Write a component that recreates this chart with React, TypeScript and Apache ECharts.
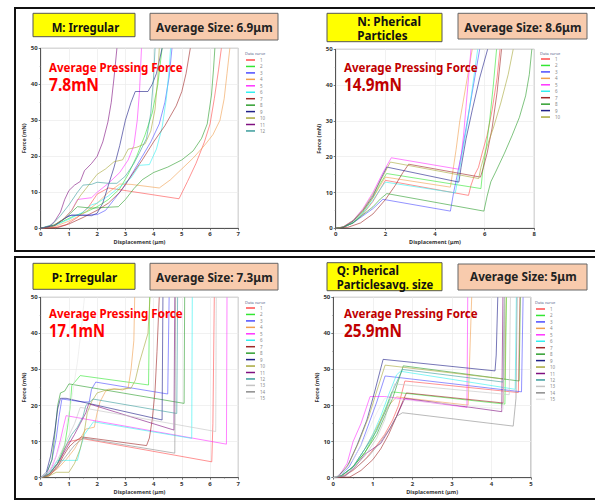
import React, { useEffect, useRef } from 'react';
import * as echarts from 'echarts';

type Pt = [number, number];

const curveColors = [
  '#ff4d4d', '#33e633', '#4d4dff', '#f0a050', '#ff33ff', '#33f0f0', '#a02828', '#2e9e2e',
  '#202088', '#a8a83c', '#801080', '#3c9c9c', '#c4c4c4', '#8c8c8c', '#e6e6e6',
];

// Panel M: Irregular, 12 curves
const mCurves: Pt[][] = [
  [[0,0],[0.5,0.2],[0.9,1],[1.3,3],[1.7,6],[2.0,9.5],[2.4,11.2],[4.9,8.2],[5.2,13],[5.5,18],[5.8,24],[6.0,29],[6.15,36],[6.3,44],[6.4,50]],
  [[0,0],[0.4,0.5],[0.8,2],[1.2,3.5],[1.6,4.5],[2.0,6],[2.4,8],[2.8,11],[3.1,15],[3.4,20],[3.7,26],[3.95,32],[4.15,40],[4.3,50]],
  [[0,0],[0.5,0.8],[1.0,3.5],[1.5,3.7],[2.0,3.8],[2.3,5],[2.6,8],[3.0,12],[3.3,16],[3.6,20],[3.9,24],[4.2,29],[4.4,35],[4.55,42],[4.65,50]],
  [[0,0],[0.5,0.5],[1.0,2],[1.5,4],[2.0,7],[2.4,10],[2.8,12.3],[3.2,12.2],[4.2,11.2],[4.6,13.5],[5.0,16.5],[5.4,19.5],[5.8,23],[6.1,26],[6.35,30],[6.5,36],[6.6,43],[6.7,50]],
  [[0,0],[0.4,0.5],[0.8,2.5],[1.1,5],[1.3,8],[1.8,8.5],[2.0,10],[2.4,12.5],[2.8,15.5],[3.1,19],[3.3,23],[3.42,30],[3.5,38],[3.57,50]],
  [[0,0],[0.5,0.8],[1.0,2.5],[1.5,4.5],[1.8,6.5],[2.0,7],[2.4,9],[2.8,11.5],[3.2,14],[3.5,17.5],[3.85,17.7],[4.1,22],[4.3,28],[4.45,36],[4.55,44],[4.6,50]],
  [[0,0],[0.6,0.2],[1.0,1.2],[1.5,3],[2.0,5],[2.4,7],[2.8,10],[3.2,14.5],[3.6,19],[4.0,24],[4.4,28.5],[4.8,34],[5.0,38],[5.15,43],[5.3,50]],
  [[0,0],[0.5,1],[0.9,3],[1.3,6],[1.8,5.6],[2.3,5.8],[2.75,6],[3.0,8],[3.3,11],[3.6,13.5],[4.0,15.5],[4.5,17],[5.0,19],[5.4,21.5],[5.7,25],[5.9,29],[6.05,37],[6.12,44],[6.17,50]],
  [[0,0],[0.5,0.8],[0.9,3],[1.1,3.7],[1.8,3.5],[2.0,4.2],[2.2,7],[2.4,12],[2.6,17],[2.8,23],[3.0,30],[3.2,35],[3.35,38],[3.8,38],[3.95,40],[4.1,43],[4.3,50]],
  [[0,0],[0.4,0.5],[0.8,2.5],[1.1,5],[1.4,9],[1.7,12],[2.0,15],[2.3,16.5],[2.6,18.5],[2.9,19],[3.1,22],[3.4,22.5],[3.7,23.5],[3.9,27],[4.05,33],[4.15,42],[4.2,50]],
  [[0,0],[0.3,0.5],[0.5,2],[0.7,4.5],[0.85,8],[1.0,10.5],[1.2,12],[1.4,13],[1.55,16],[1.8,18],[2.0,20],[2.2,24],[2.38,29.5],[2.5,35],[2.6,42],[2.7,50]],
  [[0,0],[0.4,1],[0.7,3.5],[1.0,6.5],[1.3,10],[1.5,12],[1.8,12.2],[2.0,12.8],[2.4,12.5],[2.7,12.5],[3.0,14.5],[3.3,18],[3.5,21],[3.75,25],[3.9,32],[4.0,42],[4.05,50]],
];

// Panel N: spherical particles, 10 curves
const nCurves: Pt[][] = [
  [[0,0],[0.3,0.3],[0.7,1.5],[1.1,4],[1.5,7.5],[1.8,11],[2.0,13.4],[5.35,9.2],[5.45,12],[5.6,15],[5.75,17],[5.9,21],[6.1,26],[6.3,33],[6.5,42],[6.62,50]],
  [[0,0],[0.3,0.3],[0.7,1.5],[1.1,4.5],[1.5,8.5],[1.8,12.5],[2.05,15.3],[5.85,11.1],[5.92,16],[6.05,22],[6.2,30],[6.35,40],[6.48,50]],
  [[0,0],[0.3,0.3],[0.7,1.5],[1.1,3.5],[1.5,5.5],[1.9,8.1],[4.62,4.8],[4.75,10],[4.9,15],[5.1,22],[5.3,30],[5.55,40],[5.8,50]],
  [[0,0],[0.3,0.3],[0.7,1.8],[1.1,4.8],[1.5,8.5],[1.8,12],[2.0,14.3],[4.62,11.5],[4.72,16],[4.85,22],[5.0,30],[5.25,40],[5.5,50]],
  [[0,0],[0.3,0.4],[0.7,2.2],[1.1,5.5],[1.5,10],[1.9,15.5],[2.24,19.7],[4.96,16.5],[5.05,20],[5.15,26],[5.25,34],[5.35,42],[5.45,50]],
  [[0,0],[0.3,0.3],[0.7,1.6],[1.1,4.2],[1.5,7.8],[1.8,11],[2.0,12.9],[4.82,9.9],[4.95,15],[5.1,21],[5.3,29],[5.5,39],[5.72,50]],
  [[0,0],[0.5,0.3],[1.0,1.5],[1.5,4],[2.0,8],[2.4,12],[2.7,15.5],[2.94,17.9],[5.83,14.3],[5.95,17],[6.1,21],[6.3,28],[6.5,38],[6.68,50]],
  [[0,0],[0.3,0.3],[0.7,1.5],[1.1,3.8],[1.5,6],[1.8,8.2],[2.06,9.7],[5.97,4.8],[6.1,9],[6.25,13],[6.44,15.7],[6.8,21],[7.11,26],[7.4,31],[7.65,37],[7.8,43],[7.9,50]],
  [[0,0],[0.3,0.3],[0.7,2],[1.1,5],[1.5,9],[1.8,13.5],[2.06,17.1],[4.96,12.9],[5.05,17],[5.25,25],[5.5,33],[5.8,42],[6.12,50]],
  [[0,0],[0.3,0.4],[0.7,2.2],[1.1,5.2],[1.5,9.5],[1.9,14.5],[2.2,18.5],[5.76,13.9],[5.85,17],[6.05,22],[6.35,28],[6.65,35],[6.95,43],[7.15,50]],
];

// Panel P: Irregular, 15 curves
const pCurves: Pt[][] = [
  [[0,0],[0.3,0.8],[0.5,2.5],[0.7,5],[0.85,8],[1.0,10],[1.3,10.5],[1.5,10.8],[6.06,4.4],[6.1,15],[6.15,50]],
  [[0,0],[0.3,1],[0.6,4],[0.85,9],[0.95,14],[1.05,20],[1.1,25.5],[1.4,28.3],[3.82,25.7],[3.86,50]],
  [[0,0],[0.2,1],[0.4,5],[0.55,11],[0.65,17],[0.75,21.8],[1.5,21],[1.72,21],[1.8,24.5],[1.95,26.5],[4.5,23.2],[4.55,50]],
  [[0,0],[0.3,0.8],[0.6,2.5],[0.9,5],[1.2,8],[1.45,11.5],[1.6,13.5],[1.9,14],[2.0,18],[2.1,21],[2.3,24],[2.6,24.7],[2.9,24.3],[3.1,25],[3.2,30],[3.3,38],[3.33,50]],
  [[0,0],[0.2,0.8],[0.4,3],[0.55,6],[0.7,10.5],[0.8,14],[0.9,17.2],[6.58,9.3],[6.6,50]],
  [[0,0],[0.25,1],[0.45,3],[0.6,4.8],[1.3,4.8],[1.4,8],[1.55,12],[1.87,15.5],[5.35,10.9],[5.37,50]],
  [[0,0],[0.3,0.5],[0.6,3],[0.8,6],[1.0,8.5],[1.2,10],[1.45,11.3],[3.75,8.9],[3.85,11],[3.95,16],[4.05,24],[4.12,35],[4.2,50]],
  [[0,0],[0.2,1],[0.4,5],[0.5,12],[0.6,20],[0.7,23.5],[0.85,24],[1.0,26],[5.08,20.6],[5.1,50]],
  [[0,0],[0.2,1.5],[0.35,6],[0.5,13],[0.6,19],[0.7,22],[0.9,22],[4.3,16],[4.33,50]],
  [[0,0],[0.3,0.5],[0.55,1.5],[1.0,1.5],[1.2,4],[1.4,8],[1.55,13],[1.65,18],[1.8,21],[2.0,23.5],[2.4,24.5],[2.8,24.5],[3.2,24.8],[3.35,27],[3.5,32],[3.65,36],[3.8,40],[3.87,50]],
  [[0,0],[0.3,1],[0.6,4],[0.9,8],[1.2,12],[1.4,15],[1.6,18],[1.7,20.5],[4.72,13.2],[4.75,50]],
  [[0,0],[0.3,1],[0.6,4],[0.9,9],[1.1,12],[1.3,14],[1.5,17],[1.6,20],[1.85,21.8],[4.82,17.8],[4.85,50]],
  [[0,0],[0.3,1.5],[0.6,5],[0.9,10],[1.2,15],[1.4,19.5],[6.2,12.8],[6.22,50]],
  [[0,0],[0.3,1],[0.6,3],[0.9,6],[1.2,9],[1.5,11],[4.75,6.8],[4.78,50]],
  [[0,0],[0.3,2],[0.6,7],[0.9,14],[1.1,22],[1.3,32],[1.45,42],[1.55,50]],
];

// Panel Q: spherical particles, 15 curves
const qCurves: Pt[][] = [
  [[0,0],[0.2,0.3],[0.5,2],[0.8,5],[1.1,9],[1.3,12],[1.5,16],[1.65,20],[1.81,26.8],[4.68,23.6],[4.72,50]],
  [[0,0],[0.2,0.5],[0.5,3],[0.8,7],[1.0,11],[1.2,16],[1.35,20],[1.48,23.8],[4.34,20.4],[4.38,50]],
  [[0,0],[0.15,0.5],[0.4,3],[0.7,9],[0.9,15],[1.1,21],[1.31,28.2],[4.76,23.8],[4.8,50]],
  [[0,0],[0.2,0.5],[0.5,3],[0.8,8],[1.0,12],[1.2,16],[1.4,20],[1.6,22.4],[3.41,20.1],[3.5,50]],
  [[0,0],[0.15,0.5],[0.35,4],[0.5,10],[0.7,15],[0.93,22.5],[1.3,22.5],[3.38,19.5],[3.4,50]],
  [[0,0],[0.2,0.5],[0.5,3],[0.8,8],[1.0,12],[1.2,17],[1.4,23],[1.6,28.5],[1.7,29.5],[4.6,24.5],[4.63,50]],
  [[0,0],[0.42,0.2],[0.7,2],[1.0,5],[1.2,8],[1.4,12],[1.6,17],[1.75,21],[1.85,23.5],[4.3,20.7],[4.33,50]],
  [[0,0],[0.2,0.5],[0.5,3],[0.8,7],[1.1,12],[1.3,17],[1.5,22],[1.65,27],[1.77,31],[4.7,26.8],[4.73,50]],
  [[0,0],[0.1,0.3],[0.35,3],[0.6,9],[0.85,16],[1.05,24],[1.26,32.8],[4.09,29.6],[4.12,34],[4.16,50]],
  [[0,0],[0.15,0.5],[0.4,4],[0.65,10],[0.9,17],[1.1,24],[1.31,31.2],[4.34,27.3],[4.37,50]],
  [[0,0],[0.3,0.5],[0.55,3],[0.8,6.5],[1.0,8],[1.2,9.5],[1.4,13],[1.6,17],[1.77,21.1],[1.82,22],[4.26,18.3],[4.29,50]],
  [[0,0],[0.2,0.5],[0.5,3],[0.8,8],[1.1,13],[1.3,18],[1.5,24],[1.75,30],[4.3,26.5],[4.33,50]],
  [[0,0],[0.25,0.5],[0.5,2.5],[0.8,6],[1.1,11],[1.3,16],[1.45,22],[1.55,26],[4.45,23],[4.48,50]],
  [[0,0],[0.3,0.5],[0.6,3],[0.9,6],[1.2,10],[1.45,14],[1.6,17],[1.75,18],[4.55,14.3],[4.62,22],[4.65,50]],
  [[0,0],[0.2,1],[0.5,5],[0.8,11],[1.1,18],[1.3,22],[4.3,19],[4.33,50]],
];

const sizeLabels = ['Average Size: 6.9μm', 'Average Size: 8.6μm', 'Average Size: 7.3μm', 'Average Size: 5μm'];
const forceLabels = ['7.8mN', '14.9mN', '17.1mN', '25.9mN'];
const xMaxes = [7, 8, 7, 5];
const xIntervals = [1, 2, 1, 1];

const FONT = '"Noto Sans", "Open Sans", sans-serif';

let measureCtx: CanvasRenderingContext2D | null = null;
function textWidth(text: string, size: number): number {
  if (!measureCtx) measureCtx = document.createElement('canvas').getContext('2d');
  if (!measureCtx) return text.length * size * 0.6;
  measureCtx.font = `bold ${size}px ${FONT}`;
  return measureCtx.measureText(text).width;
}

function fitText(text: string, x: number, y: number, size: number, target: number, fill: string, z = 10) {
  const w = textWidth(text, size);
  return {
    type: 'text',
    x,
    y,
    scaleX: target / w,
    z,
    silent: true,
    style: {
      text,
      fontSize: size,
      fontWeight: 'bold',
      fontFamily: FONT,
      fill,
      align: 'left',
      verticalAlign: 'middle',
    },
  };
}

export default function App() {
  const ref = useRef<HTMLDivElement>(null);

  useEffect(() => {
    if (!ref.current) return;
    const chart = echarts.init(ref.current, undefined, { renderer: 'svg' });

    const panels = [
      {
        key: 'M', curves: mCurves,
        grid: { left: 40.7, top: 48.3, width: 197.6, height: 180 },
        legend: { x: 246, y: 60 }, titleY: 53,
        yellow: { x: 33, y: 13.3, w: 102, h: 23.4 }, peach: { x: 150, y: 13.3, w: 128, h: 26.7 },
        typeText: [{ t: 'M: Irregular', x: 51.7, y: 26.7, w: 67.6 }],
        sizeText: { x: 156, y: 27, w: 116.7 },
        apf: { x: 49, y: 67, fy: 85, fw: 50 }, color: '#ff0000',
        nameGapY: 12,
      },
      {
        key: 'N', curves: nCurves,
        grid: { left: 335.7, top: 49.3, width: 198.6, height: 179 },
        legend: { x: 541, y: 59 }, titleY: 53,
        yellow: { x: 327, y: 13.3, w: 115, h: 28.4 }, peach: { x: 458, y: 13.3, w: 129, h: 25.7 },
        typeText: [{ t: 'N: Pherical', x: 357.3, y: 21.7, w: 63.7 }, { t: 'Particles', x: 357.3, y: 35, w: 50.3 }],
        sizeText: { x: 464.3, y: 27, w: 117.3 },
        apf: { x: 344, y: 67, fy: 85, fw: 58 }, color: '#c00000',
        nameGapY: 12,
      },
      {
        key: 'P', curves: pCurves,
        grid: { left: 40.7, top: 297.3, width: 197.6, height: 180.4 },
        legend: { x: 246, y: 308 }, titleY: 302,
        yellow: { x: 33, y: 263.3, w: 102, h: 26 }, peach: { x: 150, y: 263.3, w: 128, h: 26.7 },
        typeText: [{ t: 'P: Irregular', x: 51.7, y: 277.3, w: 65.6 }],
        sizeText: { x: 156, y: 277, w: 116.7 },
        apf: { x: 49, y: 313, fy: 331, fw: 56 }, color: '#ff0000',
        nameGapY: 12,
      },
      {
        key: 'Q', curves: qCurves,
        grid: { left: 333.3, top: 297.3, width: 197.7, height: 180.4 },
        legend: { x: 536, y: 309 }, titleY: 302,
        yellow: { x: 327, y: 262.7, w: 115, h: 28 }, peach: { x: 458, y: 264, w: 129, h: 26 },
        typeText: [{ t: 'Q: Pherical', x: 336.7, y: 270, w: 62.3 }, { t: 'Particlesavg. size', x: 336.7, y: 283.3, w: 96.7 }],
        sizeText: { x: 470, y: 276, w: 106.7 },
        apf: { x: 344, y: 313, fy: 331, fw: 58 }, color: '#c00000',
        nameGapY: 13,
      },
    ];

    const grids: any[] = [];
    const xAxes: any[] = [];
    const yAxes: any[] = [];
    const legends: any[] = [];
    const series: any[] = [];
    const graphics: any[] = [];

    // outer frames
    graphics.push({ type: 'rect', silent: true, z: 1, shape: { x: 15, y: 8, width: 620, height: 243 }, style: { fill: 'none', stroke: '#111', lineWidth: 2 } });
    graphics.push({ type: 'rect', silent: true, z: 1, shape: { x: 15, y: 257, width: 620, height: 242 }, style: { fill: 'none', stroke: '#111', lineWidth: 2 } });

    const axisLabelStyle = { fontSize: 6, fontWeight: 'bold', color: '#333', fontFamily: FONT };

    panels.forEach((p, pi) => {
      grids.push({ ...p.grid, show: true, borderColor: '#9a9a9a', borderWidth: 1, backgroundColor: '#fff', containLabel: false });
      xAxes.push({
        gridIndex: pi, type: 'value', min: 0, max: xMaxes[pi], interval: xIntervals[pi],
        name: 'Displacement (μm)', nameLocation: 'middle', nameGap: 11,
        nameTextStyle: { fontSize: 5.5, fontWeight: 'bold', color: '#333', fontFamily: FONT },
        axisLabel: { ...axisLabelStyle, margin: 3 },
        axisLine: { show: true, onZero: false, lineStyle: { color: '#555', width: 1 } },
        axisTick: { show: true, length: 2, lineStyle: { color: '#555', width: 0.8 } },
        minorTick: { show: true, splitNumber: 2, length: 1, lineStyle: { color: '#777', width: 0.6 } },
        splitLine: { show: true, lineStyle: { color: '#ebebeb', width: 0.7 } },
      });
      yAxes.push({
        gridIndex: pi, type: 'value', min: 0, max: 50, interval: 10,
        name: 'Force (mN)', nameLocation: 'middle', nameGap: p.nameGapY,
        nameTextStyle: { fontSize: 5.5, fontWeight: 'bold', color: '#333', fontFamily: FONT },
        axisLabel: { ...axisLabelStyle, margin: 3 },
        axisLine: { show: true, onZero: false, lineStyle: { color: '#555', width: 1 } },
        axisTick: { show: true, length: 2, lineStyle: { color: '#555', width: 0.8 } },
        minorTick: { show: true, splitNumber: 2, length: 1, lineStyle: { color: '#777', width: 0.6 } },
        splitLine: { show: true, lineStyle: { color: '#ebebeb', width: 0.7 } },
      });

      const names: string[] = [];
      p.curves.forEach((c, ci) => {
        const name = `${p.key}-${ci + 1}`;
        names.push(name);
        const color = curveColors[ci];
        series.push({
          type: 'line', name, xAxisIndex: pi, yAxisIndex: pi, data: c,
          symbol: 'none', silent: true, clip: true,
          lineStyle: { width: 0.85, color, opacity: 0.72 },
          itemStyle: { color },
          z: 3,
        });
      });

      legends.push({
        orient: 'vertical', left: p.legend.x, top: p.legend.y - 3.225, padding: 0, itemGap: 0,
        itemWidth: 9, itemHeight: 1.5, icon: 'rect', selectedMode: false,
        textStyle: { fontSize: 4.5, color: '#888', lineHeight: 6.45, fontFamily: FONT },
        formatter: (n: string) => n.split('-')[1],
        data: names,
      });
      graphics.push({
        type: 'text', x: p.legend.x - 1, y: p.titleY, silent: true, z: 10,
        style: { text: 'Data curve', fontSize: 4, fill: '#56648c', fontFamily: FONT, verticalAlign: 'middle' },
      });

      // header boxes
      graphics.push({ type: 'rect', silent: true, z: 5, shape: { x: p.yellow.x, y: p.yellow.y, width: p.yellow.w, height: p.yellow.h }, style: { fill: '#ffff00', stroke: '#555', lineWidth: 1 } });
      graphics.push({ type: 'rect', silent: true, z: 5, shape: { x: p.peach.x, y: p.peach.y, width: p.peach.w, height: p.peach.h }, style: { fill: '#f8cbad', stroke: '#666', lineWidth: 1 } });
      p.typeText.forEach((t) => graphics.push(fitText(t.t, t.x, t.y, 12.5, t.w, '#111', 6)));
      graphics.push(fitText(sizeLabels[pi], p.sizeText.x, p.sizeText.y, 12.5, p.sizeText.w, '#222', 6));

      // annotation
      graphics.push(fitText('Average Pressing Force', p.apf.x, p.apf.y, 12, 134, p.color, 20));
      graphics.push(fitText(forceLabels[pi], p.apf.x, p.apf.fy, 17, p.apf.fw, p.color, 20));
    });

    chart.setOption({
      animation: false,
      backgroundColor: '#ffffff',
      grid: grids,
      xAxis: xAxes,
      yAxis: yAxes,
      legend: legends,
      series,
      graphic: { elements: graphics },
    });

    return () => chart.dispose();
  }, []);

  return <div ref={ref} style={{ position: 'absolute', left: 0, top: 0, width: 595, height: 502 }} />;
}
